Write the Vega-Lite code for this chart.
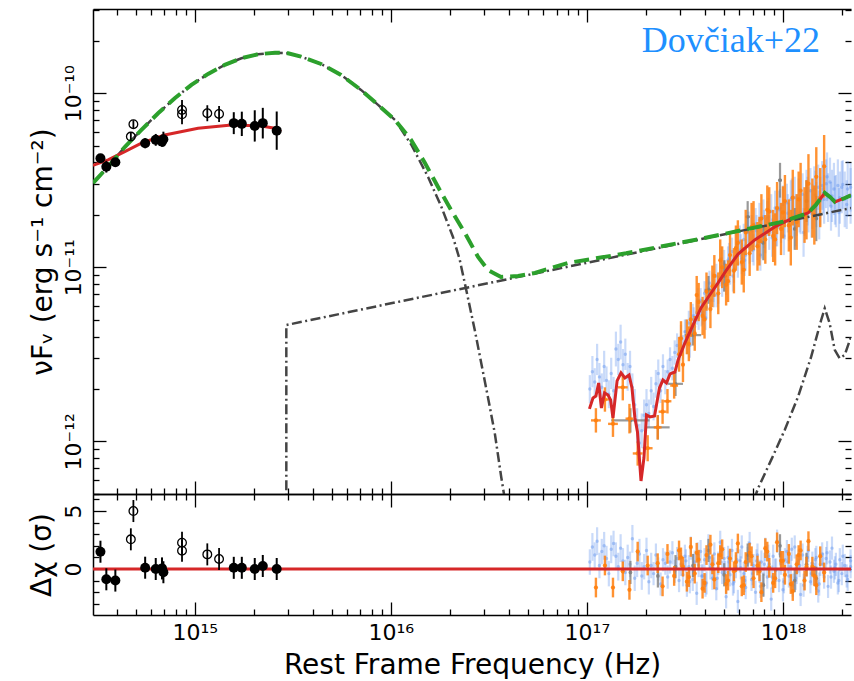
{
  "$schema": "https://vega.github.io/schema/vega-lite/v6.json",
  "padding": {"left": 28, "top": 8, "right": 0, "bottom": 0},
  "spacing": 0,
  "bounds": "flush",
  "config": {
    "font": "DejaVu Sans",
    "view": {"stroke": null},
    "axis": {
      "grid": false,
      "domainColor": "black",
      "domainWidth": 1.5,
      "tickColor": "black",
      "tickWidth": 1.3,
      "labelFont": "DejaVu Sans",
      "labelFontSize": 22,
      "labelColor": "black",
      "labelOverlap": false,
      "labelFlush": false,
      "titleFont": "DejaVu Sans",
      "titleFontSize": 28,
      "titleFontWeight": "normal",
      "titleColor": "black"
    }
  },
  "datasets": {
    "b": [
      {"nu":17.015,"f":-11.70,"e":0.08,"r":0.6,"re":1.1},
      {"nu":17.028,"f":-11.60,"e":0.09,"r":1.9,"re":1.2},
      {"nu":17.040,"f":-11.66,"e":0.08,"r":1.2,"re":1.1},
      {"nu":17.052,"f":-11.53,"e":0.09,"r":2.4,"re":1.2},
      {"nu":17.064,"f":-11.63,"e":0.08,"r":0.3,"re":1.1},
      {"nu":17.076,"f":-11.69,"e":0.08,"r":1.5,"re":1.1},
      {"nu":17.088,"f":-11.57,"e":0.09,"r":2.0,"re":1.2},
      {"nu":17.100,"f":-11.65,"e":0.08,"r":0.9,"re":1.1},
      {"nu":17.112,"f":-11.73,"e":0.08,"r":-0.4,"re":1.1},
      {"nu":17.124,"f":-11.61,"e":0.09,"r":1.7,"re":1.2},
      {"nu":17.136,"f":-11.71,"e":0.08,"r":2.2,"re":1.1},
      {"nu":17.148,"f":-11.47,"e":0.10,"r":1.1,"re":1.2},
      {"nu":17.160,"f":-11.53,"e":0.09,"r":0.2,"re":1.2},
      {"nu":17.172,"f":-11.43,"e":0.10,"r":1.8,"re":1.2},
      {"nu":17.184,"f":-11.56,"e":0.09,"r":0.7,"re":1.1},
      {"nu":17.196,"f":-11.50,"e":0.09,"r":-0.3,"re":1.1},
      {"nu":17.208,"f":-11.63,"e":0.08,"r":1.0,"re":1.1},
      {"nu":17.220,"f":-11.57,"e":0.09,"r":0.4,"re":1.1},
      {"nu":17.232,"f":-11.69,"e":0.08,"r":2.6,"re":1.2},
      {"nu":17.244,"f":-11.79,"e":0.09,"r":-0.8,"re":1.1},
      {"nu":17.256,"f":-11.91,"e":0.10,"r":0.5,"re":1.2},
      {"nu":17.268,"f":-12.01,"e":0.11,"r":1.3,"re":1.3},
      {"nu":17.280,"f":-11.94,"e":0.10,"r":-0.6,"re":1.2},
      {"nu":17.292,"f":-11.85,"e":0.09,"r":0.2,"re":1.1},
      {"nu":17.304,"f":-11.79,"e":0.09,"r":1.6,"re":1.1},
      {"nu":17.316,"f":-11.84,"e":0.08,"r":-1.1,"re":1.1},
      {"nu":17.328,"f":-11.71,"e":0.08,"r":0.3,"re":1.1},
      {"nu":17.340,"f":-11.80,"e":0.08,"r":-0.4,"re":1.0},
      {"nu":17.352,"f":-11.67,"e":0.08,"r":1.2,"re":1.0},
      {"nu":17.364,"f":-11.61,"e":0.08,"r":0.0,"re":1.0},
      {"nu":17.376,"f":-11.71,"e":0.07,"r":-1.3,"re":1.0},
      {"nu":17.388,"f":-11.57,"e":0.07,"r":0.8,"re":1.0},
      {"nu":17.400,"f":-11.66,"e":0.07,"r":0.5,"re":1.0},
      {"nu":17.412,"f":-11.60,"e":0.07,"r":-0.7,"re":1.0},
      {"nu":17.424,"f":-11.53,"e":0.07,"r":0.6,"re":1.0},
      {"nu":17.436,"f":-11.58,"e":0.07,"r":1.4,"re":1.0},
      {"nu":17.448,"f":-11.49,"e":0.07,"r":-0.2,"re":1.0},
      {"nu":17.460,"f":-11.45,"e":0.07,"r":0.9,"re":1.0},
      {"nu":17.470,"f":-11.53,"e":0.07,"r":-1.0,"re":1.0},
      {"nu":17.480,"f":-11.40,"e":0.07,"r":0.4,"re":1.0},
      {"nu":17.490,"f":-11.46,"e":0.07,"r":-0.5,"re":1.0},
      {"nu":17.500,"f":-11.37,"e":0.07,"r":1.1,"re":1.0},
      {"nu":17.510,"f":-11.43,"e":0.07,"r":-1.4,"re":1.0},
      {"nu":17.520,"f":-11.32,"e":0.07,"r":0.2,"re":1.0},
      {"nu":17.530,"f":-11.38,"e":0.07,"r":1.8,"re":1.0},
      {"nu":17.540,"f":-11.28,"e":0.07,"r":-0.9,"re":1.0},
      {"nu":17.550,"f":-11.34,"e":0.07,"r":0.6,"re":1.0},
      {"nu":17.560,"f":-11.26,"e":0.07,"r":-2.1,"re":1.0},
      {"nu":17.570,"f":-11.29,"e":0.07,"r":0.3,"re":1.0},
      {"nu":17.580,"f":-11.19,"e":0.07,"r":1.5,"re":1.0},
      {"nu":17.590,"f":-11.26,"e":0.07,"r":-0.6,"re":1.0},
      {"nu":17.600,"f":-11.15,"e":0.07,"r":0.8,"re":1.0},
      {"nu":17.610,"f":-11.23,"e":0.07,"r":-1.2,"re":1.0},
      {"nu":17.620,"f":-11.12,"e":0.07,"r":2.0,"re":1.0},
      {"nu":17.630,"f":-11.19,"e":0.07,"r":0.1,"re":1.0},
      {"nu":17.640,"f":-11.10,"e":0.07,"r":-0.8,"re":1.0},
      {"nu":17.650,"f":-11.16,"e":0.07,"r":1.3,"re":1.0},
      {"nu":17.660,"f":-11.05,"e":0.07,"r":-1.7,"re":1.0},
      {"nu":17.670,"f":-11.13,"e":0.08,"r":0.5,"re":1.0},
      {"nu":17.680,"f":-11.03,"e":0.08,"r":2.3,"re":1.0},
      {"nu":17.690,"f":-11.09,"e":0.08,"r":-0.3,"re":1.0},
      {"nu":17.700,"f":-10.98,"e":0.08,"r":0.9,"re":1.0},
      {"nu":17.710,"f":-11.08,"e":0.08,"r":-2.4,"re":1.0},
      {"nu":17.720,"f":-10.96,"e":0.08,"r":1.0,"re":1.0},
      {"nu":17.730,"f":-11.02,"e":0.08,"r":-0.5,"re":1.0},
      {"nu":17.740,"f":-10.91,"e":0.08,"r":1.6,"re":1.0},
      {"nu":17.750,"f":-11.01,"e":0.08,"r":-1.1,"re":1.0},
      {"nu":17.760,"f":-10.89,"e":0.08,"r":0.2,"re":1.0},
      {"nu":17.770,"f":-10.98,"e":0.08,"r":-2.8,"re":1.0},
      {"nu":17.780,"f":-10.85,"e":0.09,"r":0.7,"re":1.0},
      {"nu":17.790,"f":-10.95,"e":0.09,"r":1.9,"re":1.0},
      {"nu":17.800,"f":-10.84,"e":0.09,"r":-0.4,"re":1.0},
      {"nu":17.810,"f":-10.93,"e":0.09,"r":-1.6,"re":1.0},
      {"nu":17.820,"f":-10.80,"e":0.09,"r":0.9,"re":1.0},
      {"nu":17.830,"f":-10.89,"e":0.09,"r":2.2,"re":1.0},
      {"nu":17.840,"f":-10.79,"e":0.09,"r":-0.9,"re":1.0},
      {"nu":17.850,"f":-10.90,"e":0.09,"r":0.3,"re":1.0},
      {"nu":17.860,"f":-10.75,"e":0.09,"r":-2.0,"re":1.0},
      {"nu":17.870,"f":-10.87,"e":0.09,"r":1.2,"re":1.0},
      {"nu":17.880,"f":-10.73,"e":0.10,"r":-0.2,"re":1.0},
      {"nu":17.890,"f":-10.85,"e":0.10,"r":0.6,"re":1.0},
      {"nu":17.900,"f":-10.71,"e":0.10,"r":-1.3,"re":1.0},
      {"nu":17.910,"f":-10.82,"e":0.10,"r":1.7,"re":1.0},
      {"nu":17.920,"f":-10.72,"e":0.10,"r":-0.7,"re":1.0},
      {"nu":17.930,"f":-10.80,"e":0.10,"r":0.4,"re":1.0},
      {"nu":17.940,"f":-10.68,"e":0.10,"r":-2.6,"re":1.0},
      {"nu":17.950,"f":-10.80,"e":0.10,"r":1.1,"re":1.0},
      {"nu":17.960,"f":-10.66,"e":0.10,"r":-0.1,"re":1.0},
      {"nu":17.970,"f":-10.77,"e":0.11,"r":2.4,"re":1.0},
      {"nu":17.980,"f":-10.67,"e":0.11,"r":-1.0,"re":1.0},
      {"nu":17.990,"f":-10.75,"e":0.11,"r":0.5,"re":1.0},
      {"nu":18.000,"f":-10.64,"e":0.11,"r":-1.8,"re":1.0},
      {"nu":18.010,"f":-10.73,"e":0.11,"r":0.8,"re":1.0},
      {"nu":18.020,"f":-10.63,"e":0.11,"r":1.5,"re":1.0},
      {"nu":18.030,"f":-10.74,"e":0.11,"r":-0.6,"re":1.0},
      {"nu":18.040,"f":-10.61,"e":0.11,"r":0.2,"re":1.0},
      {"nu":18.050,"f":-10.71,"e":0.12,"r":-1.4,"re":1.0},
      {"nu":18.060,"f":-10.60,"e":0.12,"r":1.9,"re":1.0},
      {"nu":18.070,"f":-10.70,"e":0.12,"r":-0.3,"re":1.0},
      {"nu":18.080,"f":-10.61,"e":0.12,"r":0.7,"re":1.0},
      {"nu":18.090,"f":-10.69,"e":0.12,"r":-2.2,"re":1.0},
      {"nu":18.100,"f":-10.58,"e":0.12,"r":1.2,"re":1.0},
      {"nu":18.110,"f":-10.70,"e":0.12,"r":-0.8,"re":1.0},
      {"nu":18.120,"f":-10.57,"e":0.13,"r":0.3,"re":1.0},
      {"nu":18.130,"f":-10.67,"e":0.13,"r":1.6,"re":1.0},
      {"nu":18.140,"f":-10.56,"e":0.13,"r":-1.1,"re":1.0},
      {"nu":18.150,"f":-10.65,"e":0.13,"r":0.5,"re":1.0},
      {"nu":18.160,"f":-10.55,"e":0.13,"r":-0.5,"re":1.0},
      {"nu":18.170,"f":-10.64,"e":0.13,"r":1.0,"re":1.0},
      {"nu":18.180,"f":-10.54,"e":0.13,"r":-1.9,"re":1.0},
      {"nu":18.190,"f":-10.62,"e":0.14,"r":0.4,"re":1.0},
      {"nu":18.200,"f":-10.53,"e":0.14,"r":1.3,"re":1.0},
      {"nu":18.210,"f":-10.61,"e":0.14,"r":-0.7,"re":1.0},
      {"nu":18.220,"f":-10.52,"e":0.14,"r":0.9,"re":1.0},
      {"nu":18.230,"f":-10.60,"e":0.14,"r":-1.5,"re":1.0},
      {"nu":18.240,"f":-10.51,"e":0.14,"r":0.6,"re":1.0},
      {"nu":18.250,"f":-10.59,"e":0.15,"r":1.8,"re":1.0},
      {"nu":18.260,"f":-10.55,"e":0.15,"r":-0.2,"re":1.0},
      {"nu":18.270,"f":-10.62,"e":0.15,"r":0.4,"re":1.0},
      {"nu":18.280,"f":-10.53,"e":0.15,"r":-1.2,"re":1.0},
      {"nu":18.290,"f":-10.60,"e":0.15,"r":0.8,"re":1.0},
      {"nu":18.300,"f":-10.54,"e":0.15,"r":-0.4,"re":1.0},
      {"nu":18.315,"f":-10.61,"e":0.16,"r":0.3,"re":1.0},
      {"nu":18.330,"f":-10.55,"e":0.16,"r":-0.9,"re":1.0},
      {"nu":18.345,"f":-10.59,"e":0.16,"r":0.2,"re":1.0},
      {"nu":17.505,"f":-11.37,"e":0.07,"r":0.7,"re":1.0},
      {"nu":17.525,"f":-11.45,"e":0.07,"r":-1.1,"re":1.0},
      {"nu":17.545,"f":-11.30,"e":0.07,"r":0.3,"re":1.0},
      {"nu":17.565,"f":-11.19,"e":0.07,"r":1.3,"re":1.0},
      {"nu":17.585,"f":-11.27,"e":0.07,"r":-0.6,"re":1.0},
      {"nu":17.605,"f":-11.29,"e":0.07,"r":-1.4,"re":1.0},
      {"nu":17.625,"f":-11.09,"e":0.07,"r":1.0,"re":1.0},
      {"nu":17.645,"f":-11.13,"e":0.07,"r":0.0,"re":1.0},
      {"nu":17.665,"f":-11.16,"e":0.07,"r":-0.8,"re":1.0},
      {"nu":17.685,"f":-10.95,"e":0.07,"r":1.5,"re":1.0},
      {"nu":17.705,"f":-11.05,"e":0.09,"r":-0.3,"re":1.0},
      {"nu":17.725,"f":-10.95,"e":0.09,"r":0.6,"re":1.0},
      {"nu":17.745,"f":-11.05,"e":0.09,"r":-1.3,"re":1.0},
      {"nu":17.765,"f":-10.87,"e":0.09,"r":0.8,"re":1.0},
      {"nu":17.785,"f":-10.90,"e":0.09,"r":0.1,"re":1.0},
      {"nu":17.805,"f":-10.96,"e":0.09,"r":-1.0,"re":1.0},
      {"nu":17.825,"f":-10.77,"e":0.09,"r":1.4,"re":1.0},
      {"nu":17.845,"f":-10.88,"e":0.09,"r":-0.4,"re":1.0},
      {"nu":17.865,"f":-10.79,"e":0.09,"r":0.7,"re":1.0},
      {"nu":17.885,"f":-10.93,"e":0.09,"r":-1.5,"re":1.0},
      {"nu":17.905,"f":-10.78,"e":0.11,"r":0.4,"re":1.0},
      {"nu":17.925,"f":-10.71,"e":0.11,"r":1.1,"re":1.0},
      {"nu":17.945,"f":-10.83,"e":0.11,"r":-0.7,"re":1.0},
      {"nu":17.965,"f":-10.77,"e":0.11,"r":-0.1,"re":1.0},
      {"nu":17.985,"f":-10.66,"e":0.11,"r":1.3,"re":1.0},
      {"nu":18.005,"f":-10.82,"e":0.11,"r":-1.1,"re":1.0},
      {"nu":18.025,"f":-10.69,"e":0.11,"r":0.6,"re":1.0},
      {"nu":18.045,"f":-10.60,"e":0.11,"r":1.7,"re":1.0},
      {"nu":18.065,"f":-10.77,"e":0.11,"r":-0.8,"re":1.0},
      {"nu":18.085,"f":-10.69,"e":0.11,"r":0.3,"re":1.0},
      {"nu":18.105,"f":-10.80,"e":0.14,"r":-1.4,"re":1.0},
      {"nu":18.125,"f":-10.62,"e":0.14,"r":1.0,"re":1.0},
      {"nu":18.145,"f":-10.69,"e":0.14,"r":-0.4,"re":1.0},
      {"nu":18.165,"f":-10.585,"e":0.14,"r":0.8,"re":1.0},
      {"nu":18.185,"f":-10.70,"e":0.14,"r":-1.3,"re":1.0},
      {"nu":18.205,"f":-10.55,"e":0.14,"r":0.4,"re":1.0},
      {"nu":18.225,"f":-10.48,"e":0.14,"r":1.4,"re":1.0},
      {"nu":18.245,"f":-10.65,"e":0.14,"r":-0.7,"re":1.0},
      {"nu":18.265,"f":-10.615,"e":0.14,"r":0.1,"re":1.0},
      {"nu":18.285,"f":-10.685,"e":0.14,"r":-1.0,"re":1.0},
      {"nu":18.305,"f":-10.525,"e":0.14,"r":1.1,"re":1.0},
      {"nu":18.325,"f":-10.64,"e":0.14,"r":-0.6,"re":1.0},
      {"nu":18.345,"f":-10.54,"e":0.14,"r":0.7,"re":1.0}
    ],
    "o": [
      {"nu":17.046,"f":-11.88,"e":0.07,"xe":0.025,"r":-1.6,"re":0.85},
      {"nu":17.092,"f":-11.76,"e":0.07,"xe":0.02,"r":0.3,"re":0.85},
      {"nu":17.133,"f":-11.90,"e":0.075,"xe":0.025,"r":-1.6,"re":0.85},
      {"nu":17.183,"f":-11.69,"e":0.075,"xe":0.025,"r":-0.2,"re":0.85},
      {"nu":17.217,"f":-11.87,"e":0.085,"xe":0.02,"r":-1.8,"re":0.85},
      {"nu":17.259,"f":-12.07,"e":0.07,"xe":0.025,"r":1.5,"re":0.85},
      {"nu":17.310,"f":-12.04,"e":0.075,"xe":0.025,"r":0.3,"re":0.85},
      {"nu":17.361,"f":-11.92,"e":0.07,"xe":0.02,"r":0.5,"re":0.85},
      {"nu":17.386,"f":-11.83,"e":0.07,"xe":0.02,"r":-1.5,"re":0.85},
      {"nu":17.411,"f":-11.77,"e":0.07,"xe":0.02,"r":1.3,"re":0.85},
      {"nu":17.445,"f":-11.68,"e":0.075,"xe":0.02,"r":-0.6,"re":0.85},
      {"nu":17.470,"f":-11.50,"e":0.10,"xe":0,"r":1.6,"re":0.85},
      {"nu":17.490,"f":-11.56,"e":0.10,"xe":0,"r":0.2,"re":0.85},
      {"nu":17.510,"f":-11.40,"e":0.10,"xe":0,"r":-1.1,"re":0.85},
      {"nu":17.530,"f":-11.30,"e":0.10,"xe":0,"r":1.9,"re":0.85},
      {"nu":17.550,"f":-11.38,"e":0.10,"xe":0,"r":-0.4,"re":0.85},
      {"nu":17.570,"f":-11.20,"e":0.11,"xe":0,"r":0.8,"re":0.85},
      {"nu":17.590,"f":-11.28,"e":0.11,"xe":0,"r":-1.7,"re":0.85},
      {"nu":17.610,"f":-11.14,"e":0.11,"xe":0,"r":1.2,"re":0.85},
      {"nu":17.630,"f":-11.24,"e":0.11,"xe":0,"r":2.1,"re":0.85},
      {"nu":17.650,"f":-11.05,"e":0.12,"xe":0,"r":-0.9,"re":0.85},
      {"nu":17.670,"f":-11.15,"e":0.12,"xe":0,"r":0.5,"re":0.85},
      {"nu":17.690,"f":-11.00,"e":0.12,"xe":0,"r":1.7,"re":0.85},
      {"nu":17.710,"f":-11.10,"e":0.12,"xe":0,"r":-1.3,"re":0.85},
      {"nu":17.730,"f":-10.93,"e":0.12,"xe":0,"r":0.9,"re":0.85},
      {"nu":17.750,"f":-11.02,"e":0.13,"xe":0,"r":-0.2,"re":0.85},
      {"nu":17.770,"f":-10.86,"e":0.13,"xe":0,"r":2.2,"re":0.85},
      {"nu":17.790,"f":-10.97,"e":0.13,"xe":0,"r":-1.5,"re":0.85},
      {"nu":17.810,"f":-10.80,"e":0.13,"xe":0,"r":0.6,"re":0.85},
      {"nu":17.830,"f":-10.92,"e":0.13,"xe":0,"r":1.4,"re":0.85},
      {"nu":17.850,"f":-10.76,"e":0.14,"xe":0,"r":-0.8,"re":0.85},
      {"nu":17.870,"f":-10.88,"e":0.14,"xe":0,"r":0.3,"re":0.85},
      {"nu":17.890,"f":-10.72,"e":0.14,"xe":0,"r":-2.0,"re":0.85},
      {"nu":17.910,"f":-10.84,"e":0.14,"xe":0,"r":1.8,"re":0.85},
      {"nu":17.930,"f":-10.68,"e":0.14,"xe":0,"r":0.1,"re":0.85},
      {"nu":17.950,"f":-10.82,"e":0.15,"xe":0,"r":-1.2,"re":0.85},
      {"nu":17.970,"f":-10.66,"e":0.15,"xe":0,"r":2.3,"re":0.85},
      {"nu":17.990,"f":-10.78,"e":0.15,"xe":0,"r":0.7,"re":0.85},
      {"nu":18.010,"f":-10.62,"e":0.15,"xe":0,"r":-0.5,"re":0.85},
      {"nu":18.030,"f":-10.76,"e":0.15,"xe":0,"r":1.3,"re":0.85},
      {"nu":18.050,"f":-10.60,"e":0.16,"xe":0,"r":-1.9,"re":0.85},
      {"nu":18.070,"f":-10.74,"e":0.16,"xe":0,"r":0.4,"re":0.85},
      {"nu":18.090,"f":-10.56,"e":0.16,"xe":0,"r":1.6,"re":0.85},
      {"nu":18.110,"f":-10.70,"e":0.16,"xe":0,"r":-1.0,"re":0.85},
      {"nu":18.130,"f":-10.52,"e":0.17,"xe":0,"r":2.4,"re":0.85},
      {"nu":18.150,"f":-10.66,"e":0.17,"xe":0,"r":0.2,"re":0.85},
      {"nu":18.170,"f":-10.48,"e":0.17,"xe":0,"r":-1.4,"re":0.85},
      {"nu":18.190,"f":-10.60,"e":0.17,"xe":0,"r":1.1,"re":0.85},
      {"nu":18.210,"f":-10.42,"e":0.18,"xe":0,"r":-0.3,"re":0.85},
      {"nu":17.480,"f":-11.41,"e":0.10,"xe":0,"r":1.0,"re":0.85},
      {"nu":17.520,"f":-11.44,"e":0.10,"xe":0,"r":-0.7,"re":0.85},
      {"nu":17.560,"f":-11.16,"e":0.11,"xe":0,"r":1.4,"re":0.85},
      {"nu":17.600,"f":-11.30,"e":0.11,"xe":0,"r":-1.2,"re":0.85},
      {"nu":17.640,"f":-11.11,"e":0.12,"xe":0,"r":0.4,"re":0.85},
      {"nu":17.680,"f":-10.96,"e":0.12,"xe":0,"r":1.2,"re":0.85},
      {"nu":17.720,"f":-11.08,"e":0.12,"xe":0,"r":-1.0,"re":0.85},
      {"nu":17.760,"f":-10.89,"e":0.13,"xe":0,"r":0.6,"re":0.85},
      {"nu":17.800,"f":-11.015,"e":0.13,"xe":0,"r":-1.4,"re":0.85},
      {"nu":17.840,"f":-10.77,"e":0.14,"xe":0,"r":1.1,"re":0.85},
      {"nu":17.880,"f":-10.85,"e":0.14,"xe":0,"r":-0.2,"re":0.85},
      {"nu":17.920,"f":-10.67,"e":0.14,"xe":0,"r":1.5,"re":0.85},
      {"nu":17.960,"f":-10.84,"e":0.15,"xe":0,"r":-0.8,"re":0.85},
      {"nu":18.000,"f":-10.685,"e":0.15,"xe":0,"r":0.7,"re":0.85},
      {"nu":18.040,"f":-10.83,"e":0.16,"xe":0,"r":-1.3,"re":0.85},
      {"nu":18.080,"f":-10.61,"e":0.16,"xe":0,"r":1.2,"re":0.85},
      {"nu":18.120,"f":-10.67,"e":0.17,"xe":0,"r":0.2,"re":0.85},
      {"nu":18.160,"f":-10.70,"e":0.17,"xe":0,"r":-0.6,"re":0.85}
    ],
    "g": [
      {"nu":17.222,"f":-11.88,"e":0.07,"xe":0.098,"r":-0.3,"re":1.0},
      {"nu":17.362,"f":-11.92,"e":0.07,"xe":0.06,"r":-0.6,"re":1.0},
      {"nu":17.452,"f":-11.67,"e":0.07,"xe":0.038,"r":0.2,"re":1.0},
      {"nu":17.541,"f":-11.39,"e":0.06,"xe":0.042,"r":0.3,"re":1.0},
      {"nu":17.620,"f":-11.13,"e":0.08,"xe":0.02,"r":1.6,"re":1.0},
      {"nu":17.700,"f":-11.05,"e":0.09,"xe":0.015,"r":-0.5,"re":1.0},
      {"nu":17.820,"f":-10.71,"e":0.09,"xe":0.012,"r":1.2,"re":1.0},
      {"nu":17.900,"f":-10.86,"e":0.10,"xe":0.01,"r":-1.4,"re":1.0},
      {"nu":17.985,"f":-10.50,"e":0.10,"xe":0.01,"r":2.0,"re":1.0},
      {"nu":18.060,"f":-10.78,"e":0.12,"xe":0.008,"r":-1.0,"re":1.0},
      {"nu":18.120,"f":-10.62,"e":0.12,"xe":0.007,"r":0.4,"re":1.0},
      {"nu":18.170,"f":-10.72,"e":0.13,"xe":0.006,"r":-0.8,"re":1.0}
    ],
    "of": [
      {"nu":14.519,"f":-10.374,"e":0.023,"r":1.49,"re":0.95},
      {"nu":14.549,"f":-10.422,"e":0.034,"r":-0.89,"re":0.95},
      {"nu":14.595,"f":-10.397,"e":0.023,"r":-1.0,"re":0.95},
      {"nu":14.747,"f":-10.287,"e":0.029,"r":0.11,"re":0.95},
      {"nu":14.801,"f":-10.268,"e":0.034,"r":0.0,"re":0.95},
      {"nu":14.833,"f":-10.278,"e":0.03,"r":0.05,"re":0.95},
      {"nu":14.840,"f":-10.264,"e":0.043,"r":-0.28,"re":0.95},
      {"nu":15.199,"f":-10.172,"e":0.063,"r":0.1,"re":0.95},
      {"nu":15.240,"f":-10.176,"e":0.07,"r":0.1,"re":0.95},
      {"nu":15.306,"f":-10.188,"e":0.09,"r":0.0,"re":0.95},
      {"nu":15.347,"f":-10.172,"e":0.088,"r":0.26,"re":0.95},
      {"nu":15.418,"f":-10.215,"e":0.11,"r":0.0,"re":0.95}
    ],
    "oo": [
      {"nu":14.674,"f":-10.249,"e":0.023,"r":2.56,"re":0.95},
      {"nu":14.687,"f":-10.178,"e":0.023,"r":5.0,"re":0.95},
      {"nu":14.935,"f":-10.096,"e":0.057,"r":2.27,"re":0.95},
      {"nu":14.935,"f":-10.121,"e":0.057,"r":1.58,"re":0.95},
      {"nu":15.064,"f":-10.115,"e":0.046,"r":1.26,"re":0.95},
      {"nu":15.124,"f":-10.119,"e":0.046,"r":0.86,"re":0.95}
    ],
    "comp": [
      {"c":"disk","nu":14.481,"f":-10.516},{"c":"disk","nu":14.558,"f":-10.422},{"c":"disk","nu":14.643,"f":-10.309},
      {"c":"disk","nu":14.728,"f":-10.211},{"c":"disk","nu":14.813,"f":-10.115},{"c":"disk","nu":14.898,"f":-10.029},
      {"c":"disk","nu":14.983,"f":-9.952},{"c":"disk","nu":15.068,"f":-9.889},{"c":"disk","nu":15.153,"f":-9.837},
      {"c":"disk","nu":15.238,"f":-9.799},{"c":"disk","nu":15.323,"f":-9.776},{"c":"disk","nu":15.409,"f":-9.767},
      {"c":"disk","nu":15.476,"f":-9.770},{"c":"disk","nu":15.542,"f":-9.790},{"c":"disk","nu":15.644,"f":-9.832},
      {"c":"disk","nu":15.746,"f":-9.895},{"c":"disk","nu":15.848,"f":-9.981},{"c":"disk","nu":15.935,"f":-10.067},
      {"c":"disk","nu":16.021,"f":-10.153},{"c":"disk","nu":16.105,"f":-10.297},{"c":"disk","nu":16.190,"f":-10.481},
      {"c":"disk","nu":16.256,"f":-10.648},{"c":"disk","nu":16.317,"f":-10.826},{"c":"disk","nu":16.351,"f":-10.955},
      {"c":"disk","nu":16.377,"f":-11.090},{"c":"disk","nu":16.428,"f":-11.360},{"c":"disk","nu":16.461,"f":-11.550},
      {"c":"disk","nu":16.496,"f":-11.751},{"c":"disk","nu":16.530,"f":-11.952},{"c":"disk","nu":16.563,"f":-12.205},
      {"c":"disk","nu":16.582,"f":-12.337},
      {"c":"powerlaw","nu":15.467,"f":-12.5},{"c":"powerlaw","nu":15.467,"f":-11.332},{"c":"powerlaw","nu":18.347,"f":-10.660},
      {"c":"reflection","nu":17.852,"f":-12.337},{"c":"reflection","nu":17.873,"f":-12.270},{"c":"reflection","nu":17.940,"f":-12.107},
      {"c":"reflection","nu":18.009,"f":-11.935},{"c":"reflection","nu":18.077,"f":-11.744},{"c":"reflection","nu":18.144,"f":-11.514},
      {"c":"reflection","nu":18.195,"f":-11.303},{"c":"reflection","nu":18.213,"f":-11.236},{"c":"reflection","nu":18.238,"f":-11.322},
      {"c":"reflection","nu":18.264,"f":-11.475},{"c":"reflection","nu":18.289,"f":-11.523},{"c":"reflection","nu":18.315,"f":-11.504},
      {"c":"reflection","nu":18.347,"f":-11.400}
    ],
    "red": [
      {"c":"uv","nu":14.481,"f":-10.415},{"c":"uv","nu":14.558,"f":-10.383},{"c":"uv","nu":14.643,"f":-10.336},
      {"c":"uv","nu":14.728,"f":-10.287},{"c":"uv","nu":14.847,"f":-10.240},{"c":"uv","nu":15.017,"f":-10.201},
      {"c":"uv","nu":15.187,"f":-10.182},{"c":"uv","nu":15.340,"f":-10.188},{"c":"uv","nu":15.408,"f":-10.201},
      {"c":"uv","nu":15.440,"f":-10.220},
      {"c":"xray","nu":17.013,"f":-11.814},{"c":"xray","nu":17.031,"f":-11.751},{"c":"xray","nu":17.046,"f":-11.740},
      {"c":"xray","nu":17.060,"f":-11.665},{"c":"xray","nu":17.074,"f":-11.809},{"c":"xray","nu":17.090,"f":-11.722},
      {"c":"xray","nu":17.108,"f":-11.734},{"c":"xray","nu":17.121,"f":-11.763},{"c":"xray","nu":17.133,"f":-11.866},
      {"c":"xray","nu":17.154,"f":-11.653},{"c":"xray","nu":17.174,"f":-11.607},{"c":"xray","nu":17.194,"f":-11.636},
      {"c":"xray","nu":17.215,"f":-11.619},{"c":"xray","nu":17.230,"f":-11.694},{"c":"xray","nu":17.245,"f":-11.866},
      {"c":"xray","nu":17.258,"f":-11.947},{"c":"xray","nu":17.276,"f":-12.228},{"c":"xray","nu":17.291,"f":-12.096},
      {"c":"xray","nu":17.304,"f":-11.849},{"c":"xray","nu":17.322,"f":-11.860},{"c":"xray","nu":17.345,"f":-11.855},
      {"c":"xray","nu":17.370,"f":-11.694},{"c":"xray","nu":17.388,"f":-11.648},{"c":"xray","nu":17.406,"f":-11.665},
      {"c":"xray","nu":17.424,"f":-11.613},{"c":"xray","nu":17.449,"f":-11.602},{"c":"xray","nu":17.465,"f":-11.533},
      {"c":"xray","nu":17.500,"f":-11.435},{"c":"xray","nu":17.541,"f":-11.332},{"c":"xray","nu":17.582,"f":-11.234},
      {"c":"xray","nu":17.623,"f":-11.165},{"c":"xray","nu":17.669,"f":-11.090},{"c":"xray","nu":17.709,"f":-11.021},
      {"c":"xray","nu":17.771,"f":-10.924},{"c":"xray","nu":17.856,"f":-10.843},{"c":"xray","nu":17.958,"f":-10.768},
      {"c":"xray","nu":18.041,"f":-10.722},{"c":"xray","nu":18.128,"f":-10.688},{"c":"xray","nu":18.168,"f":-10.642},
      {"c":"xray","nu":18.213,"f":-10.573},{"c":"xray","nu":18.240,"f":-10.596},{"c":"xray","nu":18.265,"f":-10.625},
      {"c":"xray","nu":18.316,"f":-10.602},{"c":"xray","nu":18.347,"f":-10.586}
    ],
    "tot": [
      {"nu":14.481,"f":-10.516},{"nu":14.558,"f":-10.422},{"nu":14.643,"f":-10.309},{"nu":14.728,"f":-10.211},
      {"nu":14.813,"f":-10.115},{"nu":14.898,"f":-10.029},{"nu":14.983,"f":-9.952},{"nu":15.068,"f":-9.889},
      {"nu":15.153,"f":-9.837},{"nu":15.238,"f":-9.799},{"nu":15.323,"f":-9.776},{"nu":15.409,"f":-9.767},
      {"nu":15.476,"f":-9.770},{"nu":15.542,"f":-9.790},{"nu":15.644,"f":-9.832},{"nu":15.746,"f":-9.895},
      {"nu":15.848,"f":-9.981},{"nu":15.935,"f":-10.067},{"nu":16.021,"f":-10.153},{"nu":16.103,"f":-10.268},
      {"nu":16.174,"f":-10.401},{"nu":16.241,"f":-10.539},{"nu":16.307,"f":-10.671},{"nu":16.378,"f":-10.803},
      {"nu":16.445,"f":-10.941},{"nu":16.496,"f":-11.016},{"nu":16.562,"f":-11.056},{"nu":16.649,"f":-11.050},
      {"nu":16.735,"f":-11.033},{"nu":16.817,"f":-11.004},{"nu":16.904,"f":-10.975},{"nu":17.200,"f":-10.920},
      {"nu":17.600,"f":-10.832},{"nu":18.000,"f":-10.738},{"nu":18.128,"f":-10.688},{"nu":18.168,"f":-10.642},
      {"nu":18.213,"f":-10.573},{"nu":18.240,"f":-10.596},{"nu":18.265,"f":-10.625},{"nu":18.316,"f":-10.602},
      {"nu":18.347,"f":-10.586}
    ],
    "zero": [{"nu":14.481,"r":0},{"nu":18.347,"r":0}]
  },
  "vconcat": [
    {
      "width": 758,
      "height": 485,
      "layer": [
        {
          "encoding": {
            "x": {"field": "nu", "type": "quantitative", "scale": {"domain": [14.481, 18.347], "nice": false, "zero": false}, "axis": null},
            "y": {"field": "f", "type": "quantitative", "scale": {"domain": [-12.303, -9.516], "nice": false, "zero": false}, "axis": null}
          },
          "layer": [
            {"data": {"name": "b"}, "mark": {"type": "errorbar", "color": "#6495ED", "opacity": 0.35, "thickness": 2.2}, "encoding": {"yError": {"field": "e"}}},
            {
              "data": {"name": "b"},
              "mark": {"type": "circle", "color": "#6495ED", "opacity": 0.45, "size": 12},
              "encoding": {
                "x": {"field": "nu", "type": "quantitative", "scale": {"domain": [14.481, 18.347], "nice": false, "zero": false},
                  "axis": {"orient": "bottom", "values": [14.602,14.699,14.778,14.845,14.903,14.954,15,15.301,15.477,15.602,15.699,15.778,15.845,15.903,15.954,16,16.301,16.477,16.602,16.699,16.778,16.845,16.903,16.954,17,17.301,17.477,17.602,17.699,17.778,17.845,17.903,17.954,18,18.301],
                    "labels": false, "title": null,
                    "tickSize": {"condition": {"test": "abs(datum.value - round(datum.value)) < 0.001", "value": -13}, "value": -6}}},
                "y": {"field": "f", "type": "quantitative", "scale": {"domain": [-12.303, -9.516], "nice": false, "zero": false},
                  "axis": {"orient": "left", "values": [-12.301,-12.222,-12.155,-12.097,-12.046,-12,-11.699,-11.523,-11.398,-11.301,-11.222,-11.155,-11.097,-11.046,-11,-10.699,-10.523,-10.398,-10.301,-10.222,-10.155,-10.097,-10.046,-10,-9.699,-9.523],
                    "tickSize": {"condition": {"test": "abs(datum.value - round(datum.value)) < 0.001", "value": -13}, "value": -6},
                    "labelExpr": "abs(datum.value - round(datum.value)) < 0.001 ? (round(datum.value) == -10 ? '10⁻¹⁰' : round(datum.value) == -11 ? '10⁻¹¹' : '10⁻¹²') : ''",
                    "labelAngle": 270, "labelAlign": "center", "labelBaseline": "alphabetic", "labelPadding": 26,
                    "title": "νFᵥ (erg s⁻¹ cm⁻²)", "titleAngle": 270, "titleAlign": "center", "titleBaseline": "alphabetic",
                    "titleX": -42, "titleY": 242.5}}
              }
            },
            {"data": {"name": "g"}, "mark": {"type": "errorbar", "color": "#7f7f7f", "opacity": 0.8, "thickness": 2.2}, "encoding": {"xError": {"field": "xe"}}},
            {"data": {"name": "g"}, "mark": {"type": "errorbar", "color": "#7f7f7f", "opacity": 0.8, "thickness": 2.2}, "encoding": {"yError": {"field": "e"}}},
            {"data": {"name": "g"}, "mark": {"type": "circle", "color": "#7f7f7f", "opacity": 0.85, "size": 14}},
            {"data": {"name": "o"}, "mark": {"type": "errorbar", "color": "#ff7f0e", "opacity": 0.85, "thickness": 2.4}, "encoding": {"xError": {"field": "xe"}}},
            {"data": {"name": "o"}, "mark": {"type": "errorbar", "color": "#ff7f0e", "opacity": 0.85, "thickness": 2.4}, "encoding": {"yError": {"field": "e"}}},
            {
              "data": {"name": "o"},
              "mark": {"type": "circle", "color": "#ff7f0e", "opacity": 0.9, "size": 18},
              "encoding": {
                "x": {"field": "nu", "type": "quantitative", "scale": {"domain": [14.481, 18.347], "nice": false, "zero": false},
                  "axis": {"orient": "top", "values": [14.602,14.699,14.778,14.845,14.903,14.954,15,15.301,15.477,15.602,15.699,15.778,15.845,15.903,15.954,16,16.301,16.477,16.602,16.699,16.778,16.845,16.903,16.954,17,17.301,17.477,17.602,17.699,17.778,17.845,17.903,17.954,18,18.301],
                    "labels": false, "title": null,
                    "tickSize": {"condition": {"test": "abs(datum.value - round(datum.value)) < 0.001", "value": -13}, "value": -6}}},
                "y": {"field": "f", "type": "quantitative", "scale": {"domain": [-12.303, -9.516], "nice": false, "zero": false},
                  "axis": {"orient": "right", "domain": false, "labels": false, "title": null,
                    "values": [-12.301,-12.222,-12.155,-12.097,-12.046,-12,-11.699,-11.523,-11.398,-11.301,-11.222,-11.155,-11.097,-11.046,-11,-10.699,-10.523,-10.398,-10.301,-10.222,-10.155,-10.097,-10.046,-10,-9.699,-9.523],
                    "tickSize": {"condition": {"test": "abs(datum.value - round(datum.value)) < 0.001", "value": -13}, "value": -6}}}
              }
            },
            {"data": {"name": "comp"}, "mark": {"type": "line", "color": "#444444", "strokeWidth": 2.5, "strokeDash": [10, 3.5, 2, 3.5], "clip": true}, "encoding": {"detail": {"field": "c"}}},
            {"data": {"name": "red"}, "mark": {"type": "line", "color": "#d62728", "strokeWidth": 3, "clip": true}, "encoding": {"detail": {"field": "c"}}},
            {"data": {"name": "tot"}, "mark": {"type": "line", "color": "#2ca02c", "strokeWidth": 4, "strokeDash": [15, 7], "clip": true}, "encoding": {}},
            {"data": {"name": "oo"}, "mark": {"type": "errorbar", "color": "black", "thickness": 1.8}, "encoding": {"yError": {"field": "e"}}},
            {"data": {"name": "oo"}, "mark": {"type": "point", "shape": "circle", "filled": false, "color": "black", "strokeWidth": 1.3, "size": 75, "opacity": 1}},
            {"data": {"name": "of"}, "mark": {"type": "errorbar", "color": "black", "thickness": 2}, "encoding": {"yError": {"field": "e"}}},
            {"data": {"name": "of"}, "mark": {"type": "circle", "color": "black", "opacity": 1, "size": 100}}
          ],
          "resolve": {"axis": {"x": "independent", "y": "independent"}}
        },
        {
          "data": {"values": [{}]},
          "mark": {"type": "text", "text": "Dovčiak+22", "font": "Liberation Serif", "fontSize": 36, "color": "#1E90FF", "align": "right", "baseline": "alphabetic"},
          "encoding": {
            "x": {"datum": 18.189, "type": "quantitative", "scale": {"domain": [14.481, 18.347], "nice": false, "zero": false}, "axis": null},
            "y": {"datum": -9.763, "type": "quantitative", "scale": {"domain": [-12.303, -9.516], "nice": false, "zero": false}, "axis": null}
          }
        }
      ],
      "resolve": {"axis": {"x": "independent", "y": "independent"}}
    },
    {
      "width": 758,
      "height": 121,
      "encoding": {
        "x": {"field": "nu", "type": "quantitative", "scale": {"domain": [14.481, 18.347], "nice": false, "zero": false}, "axis": null},
        "y": {"field": "r", "type": "quantitative", "scale": {"domain": [-3.97, 6.47], "nice": false, "zero": false}, "axis": null}
      },
      "layer": [
        {"data": {"name": "b"}, "mark": {"type": "errorbar", "color": "#6495ED", "opacity": 0.35, "thickness": 2.2}, "encoding": {"yError": {"field": "re"}}},
        {
          "data": {"name": "b"},
          "mark": {"type": "circle", "color": "#6495ED", "opacity": 0.45, "size": 12},
          "encoding": {
            "x": {"field": "nu", "type": "quantitative", "scale": {"domain": [14.481, 18.347], "nice": false, "zero": false},
              "axis": {"orient": "bottom", "values": [14.602,14.699,14.778,14.845,14.903,14.954,15,15.301,15.477,15.602,15.699,15.778,15.845,15.903,15.954,16,16.301,16.477,16.602,16.699,16.778,16.845,16.903,16.954,17,17.301,17.477,17.602,17.699,17.778,17.845,17.903,17.954,18,18.301],
                "tickSize": {"condition": {"test": "abs(datum.value - round(datum.value)) < 0.001", "value": -13}, "value": -6},
                "labelExpr": "abs(datum.value - round(datum.value)) < 0.001 ? (round(datum.value) == 15 ? '10¹⁵' : round(datum.value) == 16 ? '10¹⁶' : round(datum.value) == 17 ? '10¹⁷' : '10¹⁸') : ''",
                "labelAlign": "center", "labelBaseline": "alphabetic", "labelPadding": 37,
                "title": "Rest Frame Frequency (Hz)", "titleBaseline": "alphabetic", "titleY": 58}},
            "y": {"field": "r", "type": "quantitative", "scale": {"domain": [-3.97, 6.47], "nice": false, "zero": false},
              "axis": {"orient": "left", "values": [-3,-2,-1,0,1,2,3,4,5,6],
                "tickSize": {"condition": {"test": "datum.value == 0 || datum.value == 5", "value": -13}, "value": -6},
                "labelExpr": "datum.value == 0 || datum.value == 5 ? datum.label : ''",
                "labelAngle": 270, "labelAlign": "center", "labelBaseline": "alphabetic", "labelPadding": 26,
                "title": "Δχ (σ)", "titleAngle": 270, "titleAlign": "center", "titleBaseline": "alphabetic",
                "titleX": -43, "titleY": 60.5}}
          }
        },
        {"data": {"name": "g"}, "mark": {"type": "errorbar", "color": "#7f7f7f", "opacity": 0.8, "thickness": 2.2}, "encoding": {"yError": {"field": "re"}}},
        {"data": {"name": "g"}, "mark": {"type": "circle", "color": "#7f7f7f", "opacity": 0.85, "size": 14}},
        {"data": {"name": "o"}, "mark": {"type": "errorbar", "color": "#ff7f0e", "opacity": 0.85, "thickness": 2.4}, "encoding": {"yError": {"field": "re"}}},
        {
          "data": {"name": "o"},
          "mark": {"type": "circle", "color": "#ff7f0e", "opacity": 0.9, "size": 18},
          "encoding": {
            "x": {"field": "nu", "type": "quantitative", "scale": {"domain": [14.481, 18.347], "nice": false, "zero": false},
              "axis": {"orient": "top", "values": [14.602,14.699,14.778,14.845,14.903,14.954,15,15.301,15.477,15.602,15.699,15.778,15.845,15.903,15.954,16,16.301,16.477,16.602,16.699,16.778,16.845,16.903,16.954,17,17.301,17.477,17.602,17.699,17.778,17.845,17.903,17.954,18,18.301],
                "labels": false, "title": null,
                "tickSize": {"condition": {"test": "abs(datum.value - round(datum.value)) < 0.001", "value": -13}, "value": -6}}},
            "y": {"field": "r", "type": "quantitative", "scale": {"domain": [-3.97, 6.47], "nice": false, "zero": false},
              "axis": {"orient": "right", "domain": false, "labels": false, "title": null, "values": [-3,-2,-1,0,1,2,3,4,5,6],
                "tickSize": {"condition": {"test": "datum.value == 0 || datum.value == 5", "value": -13}, "value": -6}}}
          }
        },
        {"data": {"name": "zero"}, "mark": {"type": "line", "color": "#d62728", "strokeWidth": 3}, "encoding": {}},
        {"data": {"name": "oo"}, "mark": {"type": "errorbar", "color": "black", "thickness": 1.8}, "encoding": {"yError": {"field": "re"}}},
        {"data": {"name": "oo"}, "mark": {"type": "point", "shape": "circle", "filled": false, "color": "black", "strokeWidth": 1.3, "size": 75, "opacity": 1}},
        {"data": {"name": "of"}, "mark": {"type": "errorbar", "color": "black", "thickness": 2}, "encoding": {"yError": {"field": "re"}}},
        {"data": {"name": "of"}, "mark": {"type": "circle", "color": "black", "opacity": 1, "size": 100}}
      ],
      "resolve": {"axis": {"x": "independent", "y": "independent"}}
    }
  ]
}
